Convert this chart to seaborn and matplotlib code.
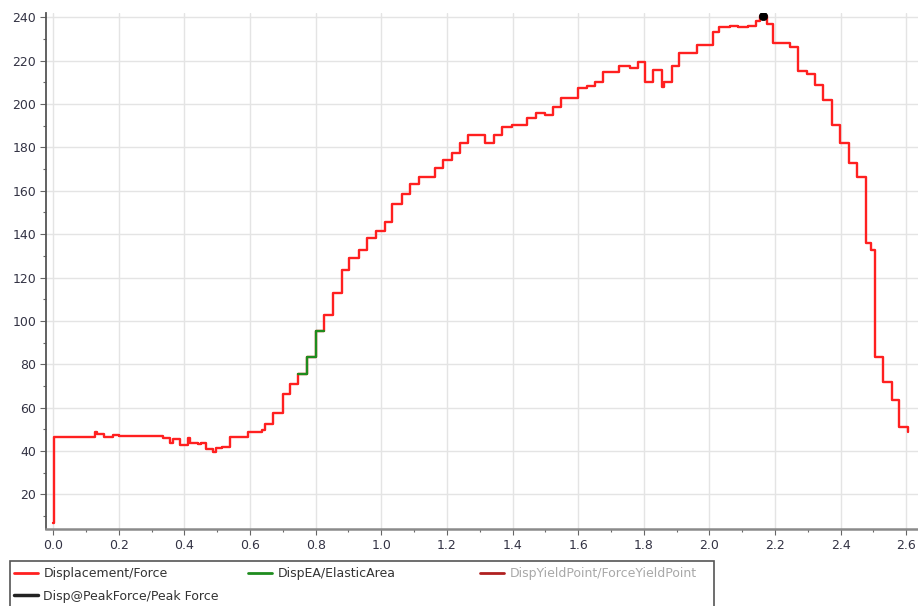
import matplotlib
matplotlib.use("Agg")
import matplotlib.pyplot as plt
from matplotlib.lines import Line2D
from matplotlib.patches import Rectangle
from matplotlib.ticker import MultipleLocator, FormatStrFormatter
import pandas as pd
import seaborn as sns

# Displacement / force record (stepped acquisition)
disp = [0.000, 0.001, 0.127, 0.135, 0.156, 0.183, 0.200, 0.335, 0.356, 0.366,
        0.386, 0.410, 0.417, 0.442, 0.450, 0.465, 0.488, 0.495, 0.513, 0.539,
        0.595, 0.635, 0.645, 0.671, 0.699, 0.722, 0.747, 0.775, 0.801, 0.825,
        0.852, 0.879, 0.903, 0.931, 0.955, 0.985, 1.011, 1.032, 1.062, 1.088,
        1.116, 1.164, 1.189, 1.215, 1.240, 1.265, 1.316, 1.344, 1.367, 1.397,
        1.443, 1.472, 1.499, 1.524, 1.547, 1.601, 1.628, 1.652, 1.677, 1.725,
        1.758, 1.784, 1.804, 1.829, 1.855, 1.862, 1.885, 1.909, 1.962, 2.012,
        2.030, 2.063, 2.088, 2.119, 2.142, 2.155, 2.175, 2.193, 2.246, 2.271,
        2.297, 2.322, 2.346, 2.373, 2.398, 2.427, 2.451, 2.478, 2.492, 2.505,
        2.530, 2.556, 2.579, 2.607]
force = [7.0, 46.6, 48.8, 48.0, 46.3, 47.5, 47.0, 45.8, 43.5, 45.3,
         42.8, 45.8, 43.8, 43.2, 43.8, 40.8, 39.4, 41.5, 42.0, 46.6,
         48.9, 49.5, 52.4, 57.5, 66.3, 71.0, 75.5, 83.5, 95.5, 102.7,
         113.0, 123.5, 128.9, 132.5, 138.3, 141.3, 145.8, 153.9, 158.5, 163.0,
         166.5, 170.7, 174.2, 177.6, 181.9, 185.7, 182.2, 185.7, 189.6, 190.4,
         193.4, 196.0, 195.0, 198.5, 202.7, 207.3, 208.3, 210.3, 214.9, 217.4,
         216.5, 219.6, 210.3, 215.7, 207.7, 210.3, 217.6, 223.4, 227.3, 233.4,
         235.4, 236.0, 235.4, 236.0, 238.5, 240.4, 237.0, 228.0, 226.5, 215.4,
         213.9, 208.8, 201.9, 190.4, 182.2, 173.0, 166.5, 135.8, 132.5, 83.5,
         72.0, 63.5, 51.2, 48.9]

# Elastic area segment
elastic_disp = [0.747, 0.775, 0.801, 0.825]
elastic_force = [75.5, 83.5, 95.5, 95.5]

# Peak force point
peak_disp = [2.165]
peak_force = [240.4]

series_labels = ["Displacement/Force", "DispEA/ElasticArea",
                 "DispYieldPoint/ForceYieldPoint", "Disp@PeakForce/Peak Force"]

sns.set_style("white")
plt.rcParams["font.family"] = ["DejaVu Sans"]

W, H = 918, 606
fig = plt.figure(figsize=(W / 100, H / 100), dpi=100)
ax = fig.add_axes([0.0501, 0.127, 0.9499, 0.8515])

main = pd.DataFrame({"disp": disp, "force": force})
ea = pd.DataFrame({"disp": elastic_disp, "force": elastic_force})
pk = pd.DataFrame({"disp": peak_disp, "force": peak_force})

red = "#ff2020"
green = "#1e8c1e"
yield_red = "#b02020"
peak_black = "#222222"

sns.lineplot(data=main, x="disp", y="force", ax=ax, color=red, lw=1.7,
             drawstyle="steps-post", estimator=None, sort=False, legend=False)
sns.lineplot(data=ea, x="disp", y="force", ax=ax, color=green, lw=1.7,
             drawstyle="steps-post", estimator=None, sort=False, legend=False)
sns.scatterplot(data=pk, x="disp", y="force", ax=ax, color="black", s=36,
                edgecolor="black", zorder=5, legend=False)

ax.set_xlim(-0.022, 2.636)
ax.set_ylim(4.0, 242.0)
ax.xaxis.set_major_locator(MultipleLocator(0.2))
ax.xaxis.set_minor_locator(MultipleLocator(0.1))
ax.yaxis.set_major_locator(MultipleLocator(20))
ax.yaxis.set_minor_locator(MultipleLocator(10))
ax.xaxis.set_major_formatter(FormatStrFormatter("%.1f"))
ax.set_xlabel("")
ax.set_ylabel("")

ax.grid(True, which="major", color="#e4e4e4", lw=1.0)
ax.set_axisbelow(True)
for side in ("top", "right"):
    ax.spines[side].set_visible(False)
ax.spines["left"].set_color("#555555")
ax.spines["left"].set_linewidth(1.3)
ax.spines["bottom"].set_color("#8a8a8a")
ax.spines["bottom"].set_linewidth(1.8)

ax.tick_params(axis="both", which="major", labelsize=9, labelcolor="#333344",
               color="#666666", length=4, width=0.8, direction="out",
               left=True, bottom=True, pad=3)
ax.tick_params(axis="both", which="minor", color="#666666", length=2.5,
               width=0.8, direction="out", left=True, bottom=True)

# Legend panel below the plot: a frame plus three columns of entries
fig.add_artist(Rectangle((10 / W, -0.02), 704 / W, 0.02 + 45 / H,
                         transform=fig.transFigure, facecolor="none",
                         edgecolor="#555555", lw=1.2))

columns = [
    ([Line2D([], [], color=red, lw=2), Line2D([], [], color=peak_black, lw=2.5)],
     [series_labels[0], series_labels[3]], 14, "#333333"),
    ([Line2D([], [], color=green, lw=2)], [series_labels[1]], 248, "#333333"),
    ([Line2D([], [], color=yield_red, lw=2)], [series_labels[2]], 480, "#a8a8a8"),
]
for hs, ls, xpx, tcol in columns:
    leg = fig.legend(hs, ls, loc="upper left",
                     bbox_to_anchor=(xpx / W, 1 - 567 / H),
                     fontsize=9, frameon=False, handlelength=1.9,
                     handletextpad=0.45, borderpad=0.0, labelspacing=0.78,
                     borderaxespad=0.0)
    for txt in leg.get_texts():
        txt.set_color(tcol)

fig.savefig("out.png", dpi=100)
